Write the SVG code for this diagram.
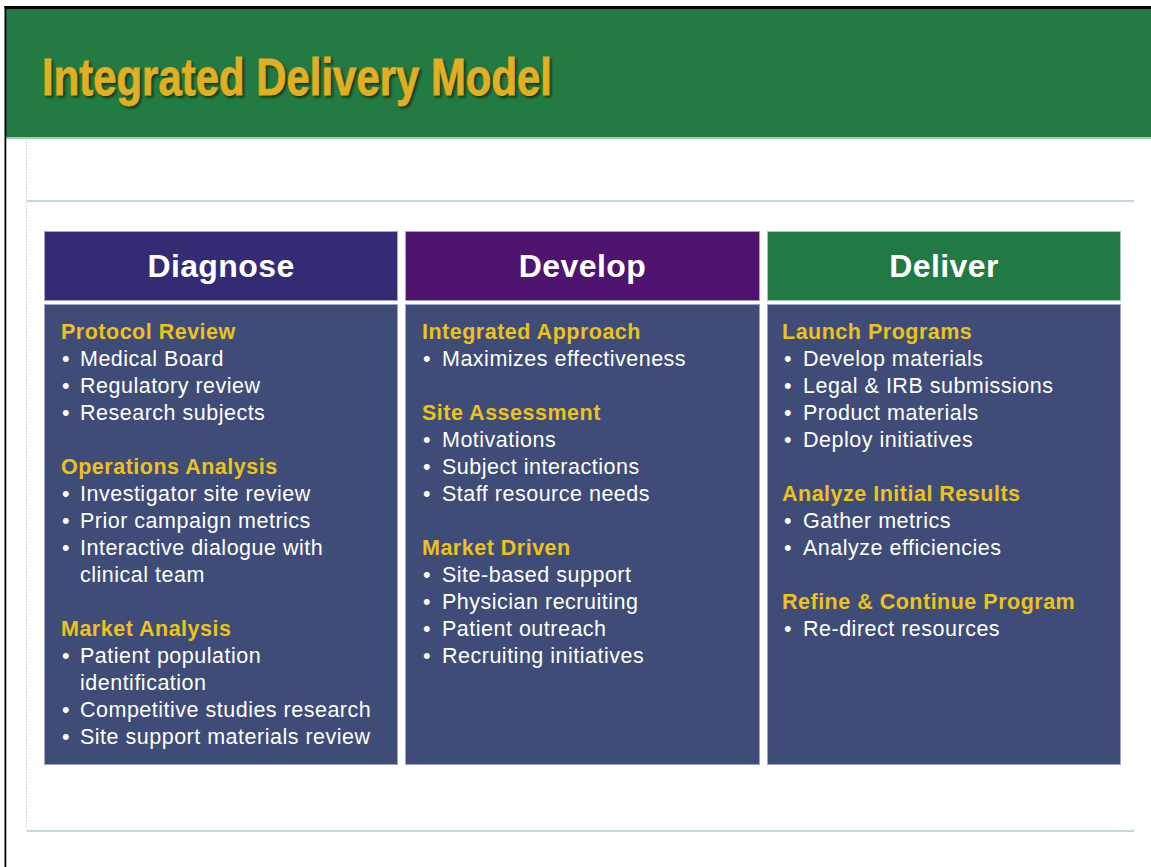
<svg xmlns="http://www.w3.org/2000/svg" width="1151" height="867" viewBox="0 0 1151 867">
  <style>
    .hdr { font-family: "Liberation Sans", Arial, sans-serif; font-weight: bold; font-size: 32px; fill: #ffffff; text-anchor: middle; letter-spacing: 0.4px; }
    .sub { font-family: "Liberation Sans", Arial, sans-serif; font-weight: bold; font-size: 21.5px; fill: #ecc21c; letter-spacing: 0.5px; }
    .item { font-family: "Liberation Sans", Arial, sans-serif; font-size: 21.5px; fill: #ffffff; letter-spacing: 0.5px; }
    .body { fill: #3f4c78; stroke: #9ea3c8; stroke-width: 1; }
    .rule { stroke: #c3dccb; stroke-width: 2; }
    .title { font-family: "Liberation Sans", Arial, sans-serif; font-weight: bold; font-size: 52px; }
  </style>
  <defs>
    <filter id="titleShadow" x="-5%" y="-20%" width="110%" height="140%">
      <feGaussianBlur stdDeviation="1.2"/>
    </filter>
  </defs>

  <!-- page background and frame -->
  <rect x="0" y="0" width="1151" height="867" fill="#ffffff"/>
  <rect x="6" y="9" width="1145" height="128" fill="#237a43"/>
  <rect x="6" y="137" width="1145" height="2" fill="#a9cbb5"/>
  <rect x="4.5" y="6" width="1146.5" height="3" fill="#000000"/>
  <rect x="4.5" y="6" width="1.8" height="861" fill="#000000"/>

  <!-- title -->
  <g id="title">
    <text class="title" x="44" y="97" textLength="510" lengthAdjust="spacingAndGlyphs" fill="#0c2f17" stroke="#0c2f17" stroke-width="1" opacity="0.85" filter="url(#titleShadow)">Integrated Delivery Model</text>
    <text class="title" x="42" y="95" textLength="510" lengthAdjust="spacingAndGlyphs" fill="#e2ae22" stroke="#e2ae22" stroke-width="0.9">Integrated Delivery Model</text>
  </g>

  <!-- page guides -->
  <line x1="26.5" y1="139" x2="26.5" y2="831" stroke="#b9d3c2" stroke-width="1" stroke-dasharray="1.5 1.5"/>
  <line class="rule" x1="27" y1="201" x2="1134" y2="201"/>
  <line class="rule" x1="27" y1="831" x2="1134" y2="831"/>

  <!-- Diagnose column -->
  <g id="diagnose">
    <rect x="44.5" y="231.5" width="353" height="69" fill="#332c74" stroke="#a9a4cc" stroke-width="1"/>
    <text class="hdr" x="221" y="277">Diagnose</text>
    <rect class="body" x="44.5" y="304.5" width="353" height="460"/>
    <text class="sub" x="61" y="339">Protocol Review</text>
    <text class="item" x="62" y="366">•</text><text class="item" x="80" y="366">Medical Board</text>
    <text class="item" x="62" y="393">•</text><text class="item" x="80" y="393">Regulatory review</text>
    <text class="item" x="62" y="420">•</text><text class="item" x="80" y="420">Research subjects</text>
    <text class="sub" x="61" y="474">Operations Analysis</text>
    <text class="item" x="62" y="501">•</text><text class="item" x="80" y="501">Investigator site review</text>
    <text class="item" x="62" y="528">•</text><text class="item" x="80" y="528">Prior campaign metrics</text>
    <text class="item" x="62" y="555">•</text><text class="item" x="80" y="555">Interactive dialogue with</text>
    <text class="item" x="80" y="582">clinical team</text>
    <text class="sub" x="61" y="636">Market Analysis</text>
    <text class="item" x="62" y="663">•</text><text class="item" x="80" y="663">Patient population</text>
    <text class="item" x="80" y="690">identification</text>
    <text class="item" x="62" y="717">•</text><text class="item" x="80" y="717">Competitive studies research</text>
    <text class="item" x="62" y="744">•</text><text class="item" x="80" y="744">Site support materials review</text>
  </g>

  <!-- Develop column -->
  <g id="develop">
    <rect x="405.5" y="231.5" width="354" height="69" fill="#4f1470" stroke="#b29cc8" stroke-width="1"/>
    <text class="hdr" x="582.5" y="277">Develop</text>
    <rect class="body" x="405.5" y="304.5" width="354" height="460"/>
    <text class="sub" x="422" y="339">Integrated Approach</text>
    <text class="item" x="423" y="366">•</text><text class="item" x="442" y="366">Maximizes effectiveness</text>
    <text class="sub" x="422" y="420">Site Assessment</text>
    <text class="item" x="423" y="447">•</text><text class="item" x="442" y="447">Motivations</text>
    <text class="item" x="423" y="474">•</text><text class="item" x="442" y="474">Subject interactions</text>
    <text class="item" x="423" y="501">•</text><text class="item" x="442" y="501">Staff resource needs</text>
    <text class="sub" x="422" y="555">Market Driven</text>
    <text class="item" x="423" y="582">•</text><text class="item" x="442" y="582">Site-based support</text>
    <text class="item" x="423" y="609">•</text><text class="item" x="442" y="609">Physician recruiting</text>
    <text class="item" x="423" y="636">•</text><text class="item" x="442" y="636">Patient outreach</text>
    <text class="item" x="423" y="663">•</text><text class="item" x="442" y="663">Recruiting initiatives</text>
  </g>

  <!-- Deliver column -->
  <g id="deliver">
    <rect x="767.5" y="231.5" width="353" height="69" fill="#217a43" stroke="#a8cbb4" stroke-width="1"/>
    <text class="hdr" x="944" y="277">Deliver</text>
    <rect class="body" x="767.5" y="304.5" width="353" height="460"/>
    <text class="sub" x="782" y="339">Launch Programs</text>
    <text class="item" x="784" y="366">•</text><text class="item" x="803" y="366">Develop materials</text>
    <text class="item" x="784" y="393">•</text><text class="item" x="803" y="393">Legal &amp; IRB submissions</text>
    <text class="item" x="784" y="420">•</text><text class="item" x="803" y="420">Product materials</text>
    <text class="item" x="784" y="447">•</text><text class="item" x="803" y="447">Deploy initiatives</text>
    <text class="sub" x="782" y="501">Analyze Initial Results</text>
    <text class="item" x="784" y="528">•</text><text class="item" x="803" y="528">Gather metrics</text>
    <text class="item" x="784" y="555">•</text><text class="item" x="803" y="555">Analyze efficiencies</text>
    <text class="sub" x="782" y="609">Refine &amp; Continue Program</text>
    <text class="item" x="784" y="636">•</text><text class="item" x="803" y="636">Re-direct resources</text>
  </g>
</svg>
